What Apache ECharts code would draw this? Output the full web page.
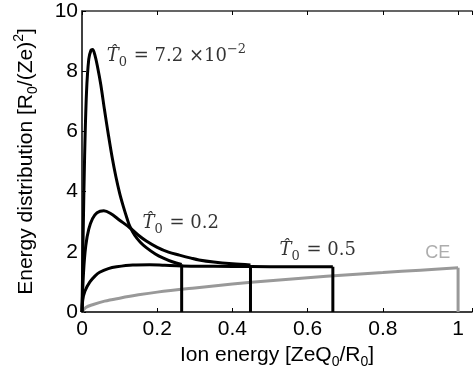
<!DOCTYPE html>
<html>
<head>
<meta charset="utf-8">
<script src="https://cdn.jsdelivr.net/npm/echarts@6/dist/echarts.min.js"></script>
<style>
  html, body { margin: 0; padding: 0; background: #fff; }
  #chart { width: 475px; height: 375px; }
</style>
</head>
<body>
<div id="chart"></div>
<script>
// curves, [ion energy, distribution]
const curveT072 = [[0,0],[0.003,2.5],[0.007,5.2],[0.012,7.3],[0.018,8.4],[0.024,8.7],[0.028,8.72],[0.034,8.55],[0.042,8.1],[0.05,7.55],[0.06,6.7],[0.07,5.9],[0.08,5.15],[0.09,4.5],[0.1,3.95],[0.11,3.5],[0.12,3.1],[0.127,2.85],[0.14,2.55],[0.155,2.32],[0.171,2.14],[0.195,1.93],[0.215,1.8],[0.24,1.67],[0.265,1.58]]
const curveT02 = [[0,0],[0.004,1.3],[0.01,2.2],[0.018,2.75],[0.028,3.1],[0.04,3.3],[0.058,3.36],[0.075,3.28],[0.1,3.05],[0.127,2.8],[0.15,2.55],[0.171,2.36],[0.2,2.15],[0.23,1.99],[0.259,1.89],[0.29,1.79],[0.311,1.73],[0.35,1.66],[0.4,1.6],[0.448,1.56]]
const curveT05 = [[0,0],[0.002,0.4],[0.008,0.7],[0.021,1.0],[0.035,1.2],[0.047,1.32],[0.07,1.44],[0.092,1.5],[0.135,1.56],[0.18,1.57],[0.22,1.55],[0.265,1.53],[0.35,1.52],[0.45,1.51],[0.55,1.5],[0.667,1.5]]
const curveCE = [[0,0],[0.01,0.15],[0.03,0.25],[0.06,0.36],[0.1,0.46],[0.15,0.57],[0.2,0.66],[0.3,0.8],[0.4,0.93],[0.5,1.04],[0.6,1.14],[0.7,1.23],[0.8,1.31],[0.9,1.39],[1.0,1.47]]
const xTicks = [0, 0.2, 0.4, 0.6, 0.8, 1]
const yTicks = [0, 2, 4, 6, 8, 10]
// label anchors [x, y] (left edge, middle)
const labelPos = [[0.066, 8.5], [0.161, 2.95], [0.525, 2.05], [0.913, 1.95]]
const labelText = [
  '{t|T\u0302}{sub|0}{n| = 7.2 ×10}{sup|−2}',
  '{t|T\u0302}{sub|0}{n| = 0.2}',
  '{t|T\u0302}{sub|0}{n| = 0.5}',
  '{ce|CE}'
]

const serif = "'DejaVu Serif', 'Liberation Serif', serif"
const sans = "'Liberation Sans', Arial, sans-serif"
const mathRich = {
  t: { fontFamily: serif, fontStyle: 'italic', fontSize: 18, color: '#000', lineHeight: 26 },
  n: { fontFamily: serif, fontSize: 18, color: '#000', lineHeight: 26 },
  sub: { fontFamily: serif, fontSize: 13, color: '#000', verticalAlign: 'bottom', lineHeight: 26, padding: [0, 1, 0, 0] },
  sup: { fontFamily: serif, fontSize: 13, color: '#000', verticalAlign: 'top', lineHeight: 26 },
  ce: { fontFamily: sans, fontSize: 18, color: '#999', lineHeight: 26 }
}
const nameRich = {
  a: { fontFamily: sans, fontSize: 21, color: '#000', lineHeight: 28 },
  sub: { fontFamily: sans, fontSize: 14, color: '#000', verticalAlign: 'bottom', lineHeight: 28 },
  sup: { fontFamily: sans, fontSize: 14, color: '#000', verticalAlign: 'top', lineHeight: 28 }
}

const near = (v, list) => list.some(t => Math.abs(v - t) < 1e-6)

const lineSeries = (data, color) => ({
  type: 'line', data, smooth: 0.35, showSymbol: false, symbol: 'none',
  lineStyle: { color, width: 3 }, z: 3, animation: false
})
const dropSeries = (data, color) => {
  const last = data[data.length - 1]
  return {
    type: 'line', data: [last, [last[0], 0]], showSymbol: false, symbol: 'none',
    lineStyle: { color, width: 3 }, z: 3, animation: false
  }
}

const chart = echarts.init(document.getElementById('chart'))
chart.setOption({
  animation: false,
  grid: { left: 82, top: 11, right: 0, bottom: 63 },
  xAxis: [
    {
      type: 'value', min: 0, max: 1.037, interval: 0.2,
      name: '{a|Ion energy [ZeQ}{sub|0}{a|/R}{sub|0}{a|]}', nameLocation: 'middle', nameGap: 29,
      nameTextStyle: { rich: nameRich, fontFamily: sans, fontSize: 21, color: '#000' },
      axisLine: { lineStyle: { color: '#000', width: 1.5 } },
      axisTick: { inside: true, length: 4, lineStyle: { color: '#000' } },
      axisLabel: {
        fontFamily: sans, fontSize: 21, color: '#000', margin: 7,
        formatter: v => near(v, xTicks) ? String(+v.toFixed(1)) : ''
      },
      splitLine: { show: false }
    },
    {
      type: 'value', position: 'top', min: 0, max: 1.037, interval: 0.2,
      axisLine: { lineStyle: { color: '#333', width: 1.5 } },
      axisTick: { inside: true, length: 4, lineStyle: { color: '#000' } },
      axisLabel: { show: false }, splitLine: { show: false }
    }
  ],
  yAxis: {
    type: 'value', min: 0, max: 10, interval: 2,
    name: '{a|Energy distribution [R}{sub|0}{a|/(Ze)}{sup|2}{a|]}', nameLocation: 'middle', nameGap: 42,
    nameTextStyle: { rich: nameRich, fontFamily: sans, fontSize: 21, color: '#000' },
    axisLine: { show: true, lineStyle: { color: '#000', width: 1.5 } },
    axisTick: { show: true, inside: true, length: 4, lineStyle: { color: '#000' } },
    axisLabel: {
      fontFamily: sans, fontSize: 21, color: '#000', margin: 4,
      formatter: v => near(v, yTicks) ? String(v) : ''
    },
    splitLine: { show: false }
  },
  series: [
    lineSeries(curveCE, '#999'), dropSeries(curveCE, '#999'),
    lineSeries(curveT072, '#000'), dropSeries(curveT072, '#000'),
    lineSeries(curveT02, '#000'), dropSeries(curveT02, '#000'),
    lineSeries(curveT05, '#000'), dropSeries(curveT05, '#000'),
    {
      type: 'scatter', symbolSize: 0, z: 5, silent: true,
      data: labelPos.map((p, i) => ({
        value: p,
        label: { show: true, position: 'right', distance: 0, formatter: labelText[i], rich: mathRich }
      }))
    }
  ]
})
</script>
</body>
</html>
